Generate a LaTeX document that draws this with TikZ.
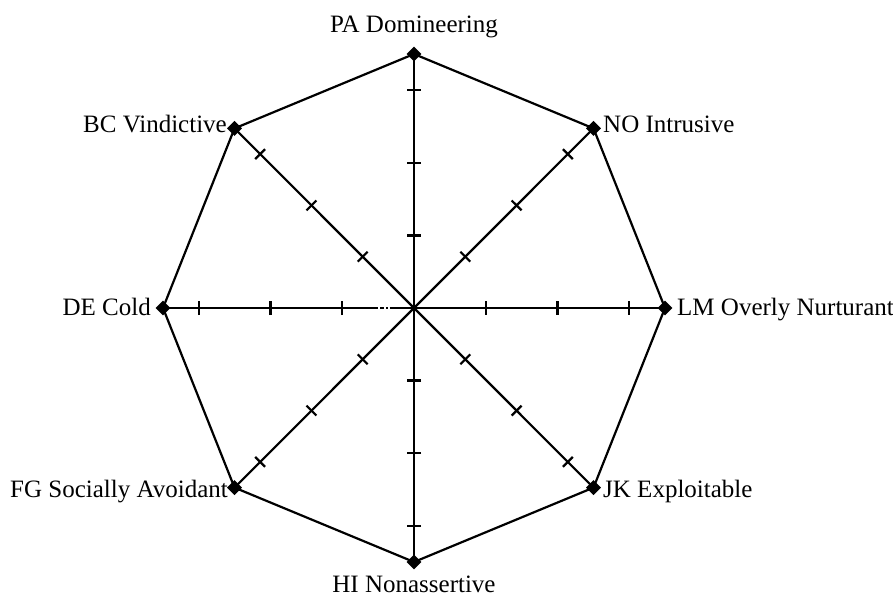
\documentclass[tikz,border=0pt]{standalone}
\usepackage{fontspec}
\setmainfont{Liberation Serif}
\usetikzlibrary{calc,shapes.geometric}
\begin{document}
\begin{tikzpicture}[x=1pt,y=-1pt,
  axisline/.style={line width=2.2pt},
  vmark/.style={diamond,fill=black,inner sep=0pt,minimum width=15pt,minimum height=15pt,aspect=1},
  lab/.style={font=\fontsize{25}{29}\selectfont,inner sep=0pt}]
\useasboundingbox (0,0) rectangle (893,599);
\coordinate (O) at (414,308);
\node[vmark] (PA) at (414,54) {};
\node[vmark] (NO) at (593.5,128.4) {};
\node[vmark] (LM) at (665,308) {};
\node[vmark] (JK) at (593.5,487.6) {};
\node[vmark] (HI) at (414,562) {};
\node[vmark] (FG) at (234.5,487.6) {};
\node[vmark] (DE) at (163,308) {};
\node[vmark] (BC) at (234.5,128.4) {};
% polygon
\draw[axisline,line join=miter] (PA.center) -- (NO.center) -- (LM.center) -- (JK.center) -- (HI.center) -- (FG.center) -- (DE.center) -- (BC.center) -- cycle;
% axes
\foreach \v in {PA,NO,LM,JK,HI,FG,BC}{
  \draw[axisline] (O) -- (\v.center);
}
\draw[axisline,dash pattern=on 215pt off 2pt on 4pt off 2pt on 1.5pt off 2pt on 100pt] (DE.center) -- (O);
% ticks
\foreach \v in {PA,NO,LM,JK,HI,FG,DE,BC}{
  \foreach \f in {0.2857,0.5714,0.8571}{
    \coordinate (t) at ($(O)!\f!(\v.center)$);
    \draw[axisline] ($(t)!7pt!90:(\v.center)$) -- ($(t)!7pt!-90:(\v.center)$);
  }
}
% labels
\node[lab,anchor=base] (lPA) at (414,33) {PA Domineering};
\node[lab,anchor=base west] (lNO) at (603,132) {NO Intrusive};
\node[lab,anchor=base west] (lLM) at (677,315) {LM Overly Nurturant};
\node[lab,anchor=base west] (lJK) at (603,497) {JK Exploitable};
\node[lab,anchor=base] (lHI) at (414,592) {HI Nonassertive};
\node[lab,anchor=base east] (lFG) at (228,497) {FG Socially Avoidant};
\node[lab,anchor=base east] (lDE) at (151,315) {DE Cold};
\node[lab,anchor=base east] (lBC) at (227,132) {BC Vindictive};
\end{tikzpicture}
\end{document}
